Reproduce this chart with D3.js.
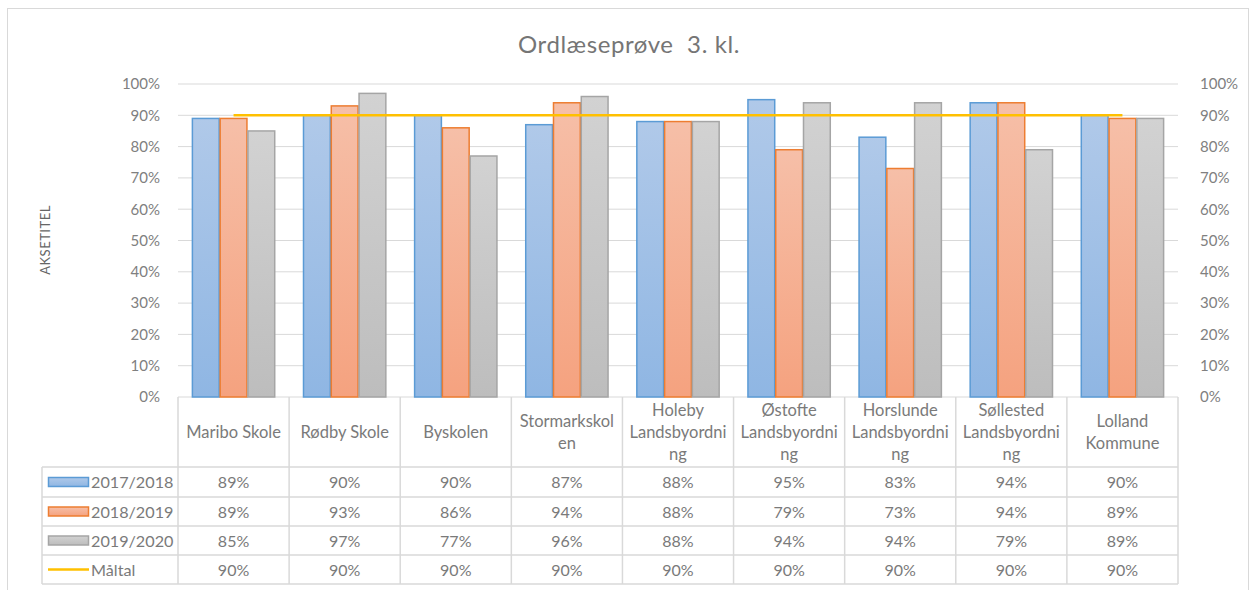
<!DOCTYPE html>
<html lang="da">

<head>
    <meta charset="utf-8">
    <title>Ordlæseprøve 3. kl.</title>
    <script src="https://d3js.org/d3.v7.min.js"></script>
    <style type="text/css">
        body {
            margin: 0;
            background: #fff;
        }

        text {
            font-family: Lato, "Open Sans", sans-serif;
        }
    </style>
</head>

<body>
    <script type="text/javascript">

        //data
        const categories = ["Maribo Skole", "Rødby Skole", "Byskolen", "Stormarkskol\nen",
            "Holeby\nLandsbyordni\nng", "Østofte\nLandsbyordni\nng", "Horslunde\nLandsbyordni\nng",
            "Søllested\nLandsbyordni\nng", "Lolland\nKommune"];
        const seriesNames = ["2017/2018", "2018/2019", "2019/2020"];
        const v2017 = [89, 90, 90, 87, 88, 95, 83, 94, 90];
        const v2018 = [89, 93, 86, 94, 88, 79, 73, 94, 89];
        const v2019 = [85, 97, 77, 96, 88, 94, 94, 79, 89];
        const maaltal = [90, 90, 90, 90, 90, 90, 90, 90, 90];
        const yTicks = [0, 10, 20, 30, 40, 50, 60, 70, 80, 90, 100];

        const series = [v2017, v2018, v2019];
        const fills = [["#b0c9e9", "#8fb6e3"], ["#f6bfa8", "#f5a27f"], ["#d2d2d2", "#bdbdbd"]];
        const strokes = ["#5b9bd5", "#ed7d31", "#a5a5a5"];
        const lineColor = "#ffc000";

        //svg information
        const width = 1250;
        const height = 590;
        const svg = d3.select("body")
            .append("svg")
            .attr("width", width)
            .attr("height", height);

        //gradients for the bars
        const defs = svg.append("defs");
        fills.forEach(function (f, i) {
            const grad = defs.append("linearGradient")
                .attr("id", "grad" + i)
                .attr("x1", 0).attr("y1", 0).attr("x2", 0).attr("y2", 1);
            grad.append("stop").attr("offset", "0%").attr("stop-color", f[0]);
            grad.append("stop").attr("offset", "100%").attr("stop-color", f[1]);
        });

        //chart border
        svg.append("rect")
            .attr("x", 7.5).attr("y", 8.5)
            .attr("width", 1241).attr("height", 600)
            .attr("fill", "#fff")
            .attr("stroke", "#d9d9d9");

        const plotLeft = 178, plotRight = 1178, plotTop = 84, plotBottom = 397;

        const x = d3.scaleBand()
            .domain(d3.range(categories.length))
            .range([plotLeft, plotRight]);
        const xInner = d3.scaleBand()
            .domain(d3.range(series.length))
            .range([0, x.bandwidth()])
            .paddingOuter(0.5)
            .paddingInner(0);
        const y = d3.scaleLinear()
            .domain([0, 100])
            .range([plotBottom, plotTop]);

        //title
        svg.append("text")
            .attr("x", 629).attr("y", 53)
            .attr("text-anchor", "middle")
            .attr("font-size", 24)
            .attr("fill", "#757575")
            .attr("letter-spacing", 0.6)
            .style("white-space", "pre")
            .text("Ordlæseprøve  3. kl.");

        //gridlines
        svg.append("g")
            .selectAll("line")
            .data(yTicks)
            .join("line")
            .attr("x1", plotLeft).attr("x2", plotRight)
            .attr("y1", d => y(d)).attr("y2", d => y(d))
            .attr("stroke", "#d9d9d9")
            .attr("stroke-width", 1);

        //left and right axes (labels only)
        const fmt = d => d + "%";
        const leftAxis = svg.append("g")
            .attr("transform", `translate(${plotLeft - 14},0)`)
            .call(d3.axisLeft(y).tickValues(yTicks).tickFormat(fmt).tickSize(0).tickPadding(4));
        const rightAxis = svg.append("g")
            .attr("transform", `translate(${plotRight + 18},0)`)
            .call(d3.axisRight(y).tickValues(yTicks).tickFormat(fmt).tickSize(0).tickPadding(4));
        [leftAxis, rightAxis].forEach(function (a) {
            a.select(".domain").remove();
            a.selectAll("text")
                .attr("font-family", "Lato, 'Open Sans', sans-serif")
                .attr("font-size", 15)
                .attr("fill", "#808080");
        });

        //axis title
        svg.append("text")
            .attr("transform", "translate(50,240) rotate(-90)")
            .attr("text-anchor", "middle")
            .attr("font-size", 13)
            .attr("fill", "#666")
            .attr("letter-spacing", 0.5)
            .text("AKSETITEL");

        //bars
        series.forEach(function (s, si) {
            svg.append("g")
                .selectAll("rect")
                .data(s)
                .join("rect")
                .attr("x", (d, i) => x(i) + xInner(si) + 0.5)
                .attr("y", d => y(d))
                .attr("width", xInner.bandwidth() - 1)
                .attr("height", d => plotBottom - y(d))
                .attr("fill", "url(#grad" + si + ")")
                .attr("stroke", strokes[si])
                .attr("stroke-width", 1.5);
        });

        //target line
        const line = d3.line()
            .x((d, i) => x(i) + x.bandwidth() / 2)
            .y(d => y(d));
        svg.append("path")
            .datum(maaltal)
            .attr("d", line)
            .attr("fill", "none")
            .attr("stroke", lineColor)
            .attr("stroke-width", 2.5);

        //data table
        const rowTop = [plotBottom, 467, 497, 526, 555, 584];
        const tableLeft = 42;
        const grid = svg.append("g")
            .attr("stroke", "#d9d9d9")
            .attr("stroke-width", 1.5)
            .attr("fill", "none");

        //vertical lines in the category part
        d3.range(categories.length + 1).forEach(function (i) {
            const xx = i < categories.length ? x(i) : plotRight;
            grid.append("line")
                .attr("x1", xx).attr("x2", xx)
                .attr("y1", plotBottom).attr("y2", rowTop[5]);
        });
        //legend column left edge
        grid.append("line")
            .attr("x1", tableLeft).attr("x2", tableLeft)
            .attr("y1", rowTop[1]).attr("y2", rowTop[5]);
        //horizontal lines
        rowTop.slice(1).forEach(function (ry) {
            grid.append("line")
                .attr("x1", tableLeft).attr("x2", plotRight)
                .attr("y1", ry).attr("y2", ry);
        });

        //category labels
        const lineH = 22;
        const headMid = (plotBottom + rowTop[1]) / 2 + 5.5;
        categories.forEach(function (c, i) {
            const lines = c.split("\n");
            const t = svg.append("text")
                .attr("text-anchor", "middle")
                .attr("font-size", 16.5)
                .attr("fill", "#7a7a7a");
            lines.forEach(function (l, li) {
                t.append("tspan")
                    .attr("x", x(i) + x.bandwidth() / 2)
                    .attr("y", headMid + (li - (lines.length - 1) / 2) * lineH)
                    .text(l);
            });
        });

        //table rows
        const rows = [
            { name: seriesNames[0], values: v2017, kind: 0 },
            { name: seriesNames[1], values: v2018, kind: 1 },
            { name: seriesNames[2], values: v2019, kind: 2 },
            { name: "Måltal", values: maaltal, kind: 3 }
        ];
        rows.forEach(function (r, ri) {
            const mid = (rowTop[ri + 1] + rowTop[ri + 2]) / 2;
            if (r.kind < 3) {
                svg.append("rect")
                    .attr("x", 48.5).attr("y", mid - 4.5)
                    .attr("width", 40).attr("height", 9)
                    .attr("fill", "url(#grad" + r.kind + ")")
                    .attr("stroke", strokes[r.kind])
                    .attr("stroke-width", 1.5);
            } else {
                svg.append("line")
                    .attr("x1", 48).attr("x2", 89)
                    .attr("y1", mid).attr("y2", mid)
                    .attr("stroke", lineColor)
                    .attr("stroke-width", 2.5);
            }
            svg.append("text")
                .attr("x", 91).attr("y", mid + 6)
                .attr("font-size", 16.2)
                .attr("fill", "#7a7a7a")
                .text(r.name);
            svg.append("g")
                .selectAll("text")
                .data(r.values)
                .join("text")
                .attr("x", (d, i) => x(i) + x.bandwidth() / 2)
                .attr("y", mid + 6)
                .attr("text-anchor", "middle")
                .attr("font-size", 16)
                .attr("fill", "#7a7a7a")
                .text(d => d + "%");
        });

    </script>
</body>

</html>
